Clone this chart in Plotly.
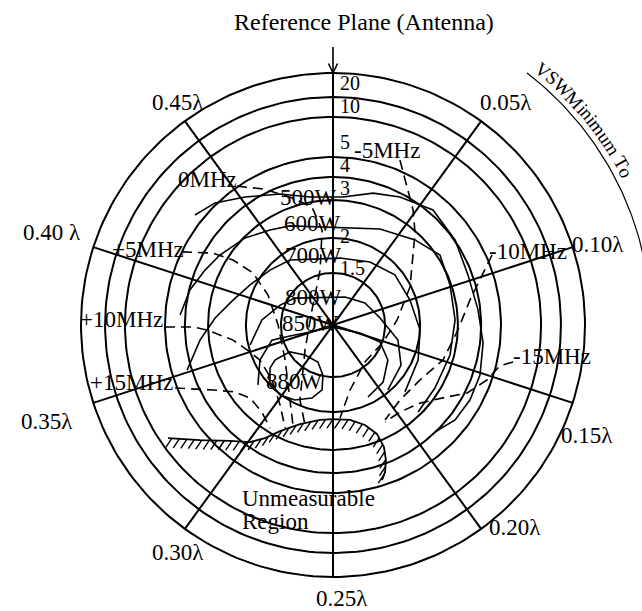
import numpy as np
import plotly.graph_objects as go

# ---------------------------------------------------------------- data
# VSWR circles (radius on the reflection-coefficient plane of the chart)
ring_gamma = [0.186, 0.311, 0.446, 0.529, 0.600, 0.743, 0.814, 0.900]

# VSWR scale printed along the reference-plane axis
vswr_labels = ["20", "10", "5", "4", "3", "2", "1.5"]
vswr_label_gamma = [0.864, 0.782, 0.652, 0.571, 0.491, 0.318, 0.204]

# distance of the VSWR minimum from the reference plane (wavelengths)
wl_spokes = [0.00, 0.05, 0.10, 0.15, 0.20]
wl_labels = ["0.05λ", "0.10λ", "0.15λ", "0.20λ", "0.25λ",
             "0.30λ", "0.35λ", "0.40 λ", "0.45λ"]
wl_label_pos = [0.05, 0.10, 0.15, 0.20, 0.25, 0.30, 0.35, 0.40, 0.45]

# output-power contours, points on the reflection-coefficient plane (x, y)
p500_x = [-0.493, -0.421, -0.314, -0.189, -0.082, 0.036, 0.143, 0.239, 0.357,
          0.436, 0.482, 0.518, 0.536, 0.525, 0.489, 0.436, 0.364]
p500_y = [0.393, 0.436, 0.457, 0.468, 0.457, 0.457, 0.471, 0.457, 0.411,
          0.304, 0.179, 0.054, -0.064, -0.179, -0.268, -0.339, -0.382]
p600_x = [-0.546, -0.511, -0.457, -0.404, -0.314, -0.225, -0.154, 0.043, 0.168,
          0.293, 0.382, 0.418, 0.436, 0.418, 0.364, 0.304]
p600_y = [0.036, 0.125, 0.196, 0.250, 0.311, 0.339, 0.354, 0.346, 0.343,
          0.304, 0.250, 0.143, 0.018, -0.107, -0.225, -0.311]
p700_x = [-0.521, -0.475, -0.421, -0.357, -0.296, -0.225, -0.154, 0.025, 0.132,
          0.221, 0.275, 0.311, 0.304, 0.257]
p700_y = [-0.161, -0.054, 0.025, 0.089, 0.143, 0.196, 0.232, 0.239, 0.225,
          0.179, 0.089, -0.018, -0.125, -0.239]
p800_x = [-0.296, -0.254, -0.189, -0.136, 0.043, 0.114, 0.168, 0.232, 0.243, 0.196]
p800_y = [-0.071, 0.018, 0.071, 0.096, 0.100, 0.079, 0.025, -0.054, -0.143, -0.232]
p850_x = [-0.268, -0.261, -0.218, -0.154, -0.082, 0.000, 0.096, 0.168, 0.196, 0.179, 0.125]
p850_y = [-0.214, -0.125, -0.054, -0.039, -0.025, -0.007, -0.029, -0.061, -0.125, -0.204, -0.257]
p880_x = [-0.207, -0.154, -0.100, -0.054, -0.036, -0.039, -0.075, -0.136, -0.189, -0.225, -0.225, -0.207]
p880_y = [-0.125, -0.096, -0.107, -0.132, -0.179, -0.232, -0.261, -0.268, -0.250, -0.204, -0.154, -0.125]

# frequency-pulling contours (dashed)
f0_x = [-0.343, -0.250, -0.154, -0.075, -0.039, -0.046, -0.075, -0.100, -0.118, -0.100]
f0_y = [0.496, 0.486, 0.457, 0.421, 0.339, 0.196, 0.054, -0.089, -0.268, -0.357]
fp5_x = [-0.539, -0.429, -0.357, -0.286, -0.232, -0.196, -0.171, -0.154, -0.143]
fp5_y = [0.261, 0.257, 0.232, 0.186, 0.107, 0.000, -0.125, -0.268, -0.357]
fp10_x = [-0.600, -0.500, -0.450, -0.357, -0.307, -0.261, -0.218, -0.189, -0.171]
fp10_y = [-0.007, -0.007, -0.018, -0.054, -0.089, -0.125, -0.196, -0.286, -0.368]
fp15_x = [-0.564, -0.429, -0.350, -0.296, -0.254, -0.225]
fp15_y = [-0.225, -0.232, -0.239, -0.261, -0.311, -0.368]
fm5_x = [0.239, 0.264, 0.286, 0.293, 0.286, 0.275, 0.229, 0.179, 0.114, 0.061, 0.025]
fm5_y = [0.589, 0.493, 0.411, 0.329, 0.243, 0.136, 0.018, -0.061, -0.132, -0.232, -0.332]
fm10_x = [0.568, 0.525, 0.489, 0.446, 0.393, 0.311, 0.239, 0.186]
fm10_y = [0.250, 0.161, 0.089, -0.018, -0.125, -0.196, -0.268, -0.339]
fm15_x = [0.643, 0.596, 0.550, 0.479, 0.407, 0.311, 0.239, 0.186]
fm15_y = [-0.132, -0.146, -0.196, -0.243, -0.257, -0.279, -0.311, -0.346]

# boundary of the unmeasurable region
unm_x = [-0.589, -0.475, -0.368, -0.296, -0.243, -0.189, -0.118, -0.046, 0.000,
         0.061, 0.114, 0.157, 0.182, 0.189, 0.186, 0.175]
unm_y = [-0.404, -0.411, -0.414, -0.418, -0.404, -0.379, -0.354, -0.339, -0.336,
         -0.339, -0.357, -0.389, -0.436, -0.482, -0.525, -0.554]

# contour labels: text, x, y on the chart plane
freq_labels = [("-5MHz", 0.193, 0.625), ("0MHz", -0.450, 0.518),
               ("+5MHz", -0.661, 0.268), ("+10MHz", -0.757, 0.018),
               ("+15MHz", -0.721, -0.207), ("-10MHz", 0.696, 0.262),
               ("-15MHz", 0.782, -0.111)]
power_labels = [("500W", -0.089, 0.457), ("600W", -0.075, 0.364),
                ("700W", -0.071, 0.250), ("800W", -0.071, 0.100),
                ("850W", -0.082, 0.007), ("880W", -0.136, -0.200)]

# ---------------------------------------------------------------- layout
W, H = 642, 611
PX = 280.0          # pixels per unit of the chart plane
CX, CY = 333, 325   # pixel position of the chart centre
FONT = "Liberation Serif"
FS = 23
INK = "black"


def polar(r, wl):
    """Chart-plane point for radius r at wavelength position wl (clockwise from top)."""
    a = np.radians(np.asarray(wl) * 720.0)
    return np.asarray(r) * np.sin(a), np.asarray(r) * np.cos(a)


fig = go.Figure()


def line(x, y, width=2.0, dash="solid"):
    fig.add_trace(go.Scatter(x=list(x), y=list(y), mode="lines", hoverinfo="skip",
                             line=dict(color=INK, width=width, dash=dash),
                             showlegend=False))


# VSWR circles
t = np.linspace(0, 0.5, 241)
for g in ring_gamma:
    line(*polar(g, t), width=2.0)

# radial lines through the centre
R = ring_gamma[-1]
for wl in wl_spokes:
    x1, y1 = polar(R, wl)
    x2, y2 = polar(R, wl + 0.25)
    line([x1, x2], [y1, y2], width=2.0)

# reference-plane arrow
top = 0.993
line([0, 0], [top, R], width=1.6)
head = 9.5 / PX
line([-4.5 / PX, 0, 4.5 / PX], [R + head, R, R + head], width=1.6)

# power contours (solid)
for xs, ys in [(p500_x, p500_y), (p600_x, p600_y), (p700_x, p700_y),
               (p800_x, p800_y), (p850_x, p850_y), (p880_x, p880_y)]:
    line(xs, ys, width=1.6)

# frequency contours (dashed)
for xs, ys in [(f0_x, f0_y), (fp5_x, fp5_y), (fp10_x, fp10_y), (fp15_x, fp15_y),
               (fm5_x, fm5_y), (fm10_x, fm10_y), (fm15_x, fm15_y)]:
    line(xs, ys, width=1.6, dash="10px,6px")

# unmeasurable region: boundary plus hatching on its inner side
line(unm_x, unm_y, width=1.8)
bx, by = np.asarray(unm_x), np.asarray(unm_y)
seg = np.hypot(np.diff(bx), np.diff(by))
s = np.concatenate([[0], np.cumsum(seg)])
step = 7.5 / PX
hx, hy = [], []
for d in np.arange(step / 2, s[-1], step):
    px_ = np.interp(d, s, bx)
    py_ = np.interp(d, s, by)
    hx += [px_, px_ - 6 / PX, None]
    hy += [py_, py_ - 9 / PX, None]
fig.add_trace(go.Scatter(x=hx, y=hy, mode="lines", hoverinfo="skip", showlegend=False,
                         line=dict(color=INK, width=1.4)))

# arc beside the curved caption
arc_t = np.linspace(37.6, 80, 60) / 720.0
line(*polar(1.136, arc_t), width=1.2)

ann = []


def text(s, x, y, size=FS, xanchor="center", yanchor="middle", angle=0):
    ann.append(dict(x=x, y=y, text=s, showarrow=False, xanchor=xanchor, yanchor=yanchor,
                    textangle=angle, font=dict(family=FONT, size=size, color=INK)))


# title
text("Reference Plane (Antenna)", 0.111, 1.082, size=24)

# VSWR scale
for s_, g in zip(vswr_labels, vswr_label_gamma):
    text(s_, 0.018, g, size=20, xanchor="left")

# wavelength labels around the rim
rim_offsets = {0.05: (0.618, 0.793), 0.10: (0.946, 0.289), 0.15: (0.907, -0.393),
               0.20: (0.650, -0.722), 0.25: (0.032, -0.975), 0.30: (-0.554, -0.811),
               0.35: (-1.021, -0.346), 0.40: (-1.004, 0.332), 0.45: (-0.554, 0.793)}
for s_, wl in zip(wl_labels, wl_label_pos):
    x, y = rim_offsets[wl]
    text(s_, x, y)

for s_, x, y in freq_labels:
    text(s_, x, y)
for s_, x, y in power_labels:
    text(s_, x, y)

text("Unmeasurable", -0.332, -0.621, xanchor="left")
text("Region", -0.332, -0.700, xanchor="left")

# caption set along an arc; glyphs that fall past the right edge are not drawn
caption = "VSWMinimum Toward Load"
em = {"V": .722, "S": .556, "W": .944, " ": .25, "M": .889, "i": .278, "n": .5,
      "m": .778, "u": .5, "T": .611, "o": .5, "w": .722, "a": .444, "r": .333,
      "d": .5, "L": .611}
cap_size = 19
r_txt = 1.18
phi = 38.3
x_edge = (W - CX - 16) / PX
for ch in caption:
    w = em[ch] * cap_size
    dphi = np.degrees(w / (r_txt * PX))
    mid = phi + dphi / 2
    x, y = polar(r_txt, mid / 720.0)
    if ch != " " and float(x) < x_edge:
        text(ch, float(x), float(y), size=cap_size, angle=mid)
    phi += dphi

fig.update_layout(
    width=W, height=H, margin=dict(l=0, r=0, t=0, b=0),
    paper_bgcolor="white", plot_bgcolor="white",
    xaxis=dict(range=[-CX / PX, (W - CX) / PX], visible=False, fixedrange=True),
    yaxis=dict(range=[-(H - CY) / PX, CY / PX], visible=False, fixedrange=True),
    annotations=ann,
)

fig.write_html("out.html")
